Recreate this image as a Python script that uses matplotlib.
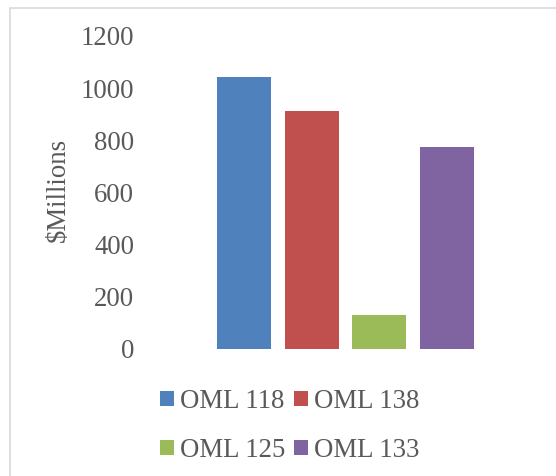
import matplotlib.pyplot as plt
from matplotlib.patches import Rectangle

# OML revenue, $ millions
fields = ['OML 118', 'OML 138', 'OML 125', 'OML 133']
values = [1043, 912, 130, 774]
colors = ['#4f81bd', '#c0504d', '#9bbb59', '#8064a2']

plt.rcParams['font.family'] = ['Liberation Serif', 'DejaVu Serif']
gray = '#595959'
fs = 19.3

W, H = 556, 476
fig = plt.figure(figsize=(W / 100, H / 100), dpi=100)

# chart frame: only the left and top edges fall inside the image
fig.add_artist(Rectangle((9.5 / W, -0.1), 1.2, (H - 7.5) / H + 0.1,
                         transform=fig.transFigure, fill=False,
                         edgecolor='#d9d9d9', linewidth=1.2))

ax = fig.add_axes([150 / W, (H - 349) / H, 391 / W, 313 / H])
x = range(len(fields))
bars = ax.bar(x, values, width=0.8, color=colors)

ax.set_xlim(-1.39, 4.39)
ax.set_ylim(0, 1200)
ax.set_yticks(range(0, 1201, 200))
ax.set_xticks([])
for s in ax.spines.values():
    s.set_visible(False)
ax.tick_params(axis='y', length=0, labelsize=fs, labelcolor=gray, pad=11.5)

fig.text(58 / W, 286 / H, '$Millions', rotation=90, ha='center', va='center',
         fontsize=fs, color=gray)

# legend fills row by row: 118, 138 / 125, 133
order = [0, 2, 1, 3]
leg = fig.legend([bars[i] for i in order], [fields[i] for i in order],
                 loc='center', ncol=2,
                 bbox_to_anchor=(290 / W, (H - 426) / H),
                 frameon=False, fontsize=fs, labelcolor=gray,
                 handlelength=0.52, handleheight=0.52, handletextpad=0.22,
                 columnspacing=0.33, labelspacing=0.9, borderpad=0)

fig.savefig('out.png', dpi=100)
